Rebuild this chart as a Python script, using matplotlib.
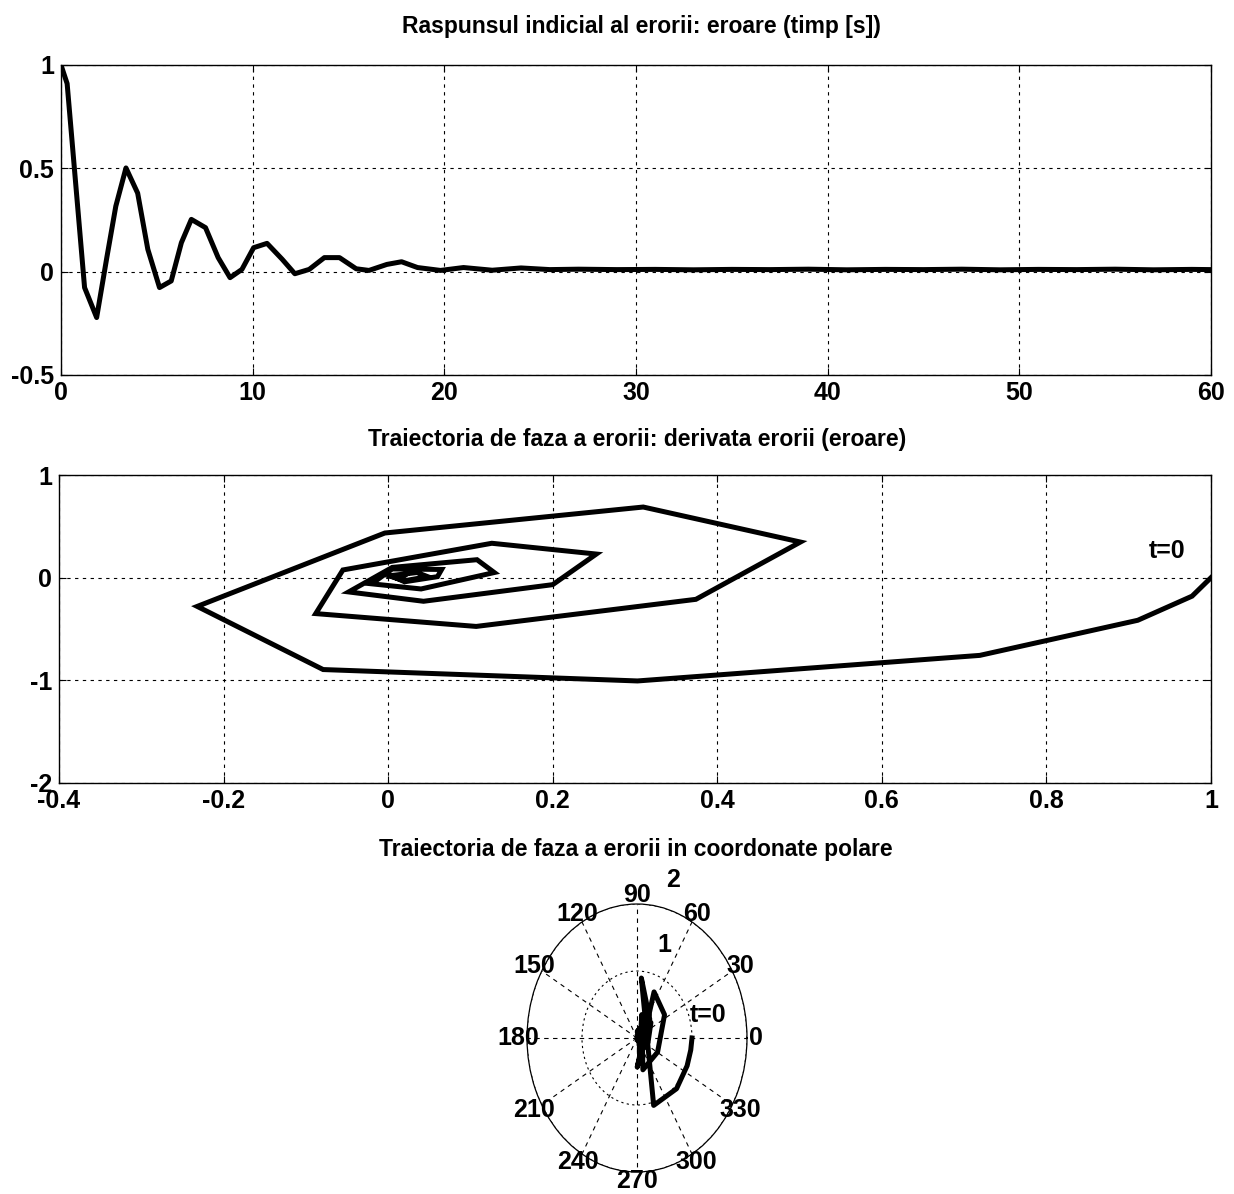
import numpy as np
import matplotlib
matplotlib.use("Agg")
import matplotlib.pyplot as plt

plt.rcParams['font.family'] = ['Liberation Sans', 'DejaVu Sans']
plt.rcParams['font.weight'] = 'bold'

# ---- data: error step response ----
t = [0, 0.32, 1.23, 1.86, 2.39, 2.86, 3.39, 4.0, 4.53, 5.14, 5.75, 6.28, 6.8, 7.54,
     8.2, 8.82, 9.44, 10.05, 10.75, 11.54, 12.2, 12.95, 13.74, 14.53, 15.4, 16.07,
     17.0, 17.77, 18.6, 19.8, 21.0, 22.5, 24.0, 25.5, 27, 29, 31, 33, 35, 37, 39,
     41, 43, 45, 47, 49, 51, 53, 55, 57, 59, 60]
err = [1.0, 0.91, -0.077, -0.222, 0.068, 0.317, 0.502, 0.38, 0.108, -0.077, -0.045,
       0.14, 0.253, 0.213, 0.068, -0.029, 0.011, 0.116, 0.137, 0.06, -0.01, 0.011,
       0.068, 0.068, 0.014, 0.006, 0.035, 0.048, 0.02, 0.006, 0.02, 0.007, 0.018,
       0.01, 0.012, 0.01, 0.011, 0.009, 0.011, 0.01, 0.012, 0.009, 0.011, 0.01,
       0.012, 0.009, 0.011, 0.01, 0.012, 0.009, 0.011, 0.01]

# ---- data: phase trajectory (error, error derivative) ----
e_ph = [1.0, 0.977, 0.911, 0.719, 0.303, -0.079, -0.232, -0.004, 0.31, 0.501, 0.374,
        0.107, -0.088, -0.055, 0.126, 0.253, 0.2, 0.043, -0.048, 0.005, 0.108, 0.129,
        0.04, -0.02, 0.005, 0.065, 0.06, 0.02, 0.003, 0.035, 0.048, 0.02, 0.008,
        0.02, 0.015, 0.01]
de_ph = [0.0, -0.18, -0.415, -0.757, -1.006, -0.895, -0.28, 0.435, 0.688, 0.347,
         -0.211, -0.475, -0.35, 0.075, 0.335, 0.23, -0.068, -0.23, -0.139, 0.10,
         0.175, 0.05, -0.11, -0.06, 0.085, 0.08, 0.01, -0.04, 0.02, 0.05, 0.01,
         -0.03, 0.0, 0.02, -0.01, 0.0]

t_ticks = [0, 10, 20, 30, 40, 50, 60]
e_ticks = [-0.5, 0, 0.5, 1]
e_tick_labels = ['-0.5', '0', '0.5', '1']
ph_xticks = [-0.4, -0.2, 0, 0.2, 0.4, 0.6, 0.8, 1]
ph_xlabels = ['-0.4', '-0.2', '0', '0.2', '0.4', '0.6', '0.8', '1']
ph_yticks = [-2, -1, 0, 1]
ph_ylabels = ['-2', '-1', '0', '1']
ang_ticks = list(range(0, 360, 30))

titles = ["Raspunsul indicial al erorii: eroare (timp [s])",
          "Traiectoria de faza a erorii: derivata erorii (eroare)",
          "Traiectoria de faza a erorii in coordonate polare"]

W, H = 1234, 1194
fig = plt.figure(figsize=(W / 100, H / 100), dpi=100)

def frac(x0, y0, x1, y1):
    return [x0 / W, 1 - y1 / H, (x1 - x0) / W, (y1 - y0) / H]

TICK_FS = 18
TITLE_FS = 16.5
LW = 3.6
grid_kw = dict(color='black', linestyle=(0, (3, 4)), linewidth=0.8)

def style_cart(ax):
    for s in ax.spines.values():
        s.set_linewidth(1.0)
    ax.tick_params(direction='in', length=5, width=0.8, labelsize=TICK_FS,
                   top=True, right=True)
    ax.tick_params(axis='x', pad=4)
    ax.tick_params(axis='y', pad=5)
    ax.grid(True, **grid_kw)
    ax.set_axisbelow(True)

# top: step response of the error
ax1 = fig.add_axes(frac(61, 65, 1211, 375))
ax1.plot(t, err, color='black', linewidth=LW, solid_joinstyle='round')
ax1.set_xlim(0, 60)
ax1.set_ylim(-0.5, 1)
ax1.set_xticks(t_ticks)
ax1.set_xticklabels([str(v) for v in t_ticks])
ax1.set_yticks(e_ticks)
ax1.set_yticklabels(e_tick_labels)
style_cart(ax1)

# middle: phase trajectory
ax2 = fig.add_axes(frac(59, 475, 1211, 783))
ax2.plot(e_ph, de_ph, color='black', linewidth=LW, solid_joinstyle='miter')
ax2.set_xlim(-0.4, 1)
ax2.set_ylim(-2, 1)
ax2.set_xticks(ph_xticks)
ax2.set_xticklabels(ph_xlabels)
ax2.set_yticks(ph_yticks)
ax2.set_yticklabels(ph_ylabels)
style_cart(ax2)
ax2.text(0.947, 0.26, 't=0', fontsize=TICK_FS, ha='center', va='center')

# bottom: polar coordinates of the phase trajectory
e_arr = np.array(e_ph)
de_arr = np.array(de_ph)
theta = np.arctan(de_arr / e_arr)
rho = np.hypot(e_arr, de_arr)

ax3 = fig.add_axes(frac(527, 904, 747, 1172), projection='polar')
ax3.set_aspect('auto')
ax3.plot(theta, rho, color='black', linewidth=LW)
ax3.set_rlim(0, 2)
ax3.set_rticks([1, 2])
ax3.set_yticklabels([])
ax3.set_thetagrids(ang_ticks, [str(a) for a in ang_ticks])
ax3.tick_params(axis='x', labelsize=TICK_FS, pad=-4)
ax3.xaxis.grid(True, color='black', linestyle=(0, (4, 4)), linewidth=0.8)
ax3.yaxis.grid(True, color='black', linestyle=(0, (2, 3)), linewidth=0.8)
ax3.spines['polar'].set_linewidth(0.9)
ax3.text(np.deg2rad(70), 1.48, '1', fontsize=TICK_FS, ha='center', va='center')
ax3.text(np.deg2rad(74.6), 2.45, '2', fontsize=TICK_FS, ha='center', va='center',
         clip_on=False)
ax3.text(np.deg2rad(14.8), 1.33, 't=0', fontsize=TICK_FS, ha='center', va='center')

# titles
fig.text(641 / W, 1 - 33 / H, titles[0], fontsize=TITLE_FS, ha='center', va='baseline')
fig.text(637 / W, 1 - 446 / H, titles[1], fontsize=TITLE_FS, ha='center', va='baseline')
fig.text(636 / W, 1 - 856 / H, titles[2], fontsize=TITLE_FS, ha='center', va='baseline')

fig.savefig('out.png', dpi=100, facecolor='white')
